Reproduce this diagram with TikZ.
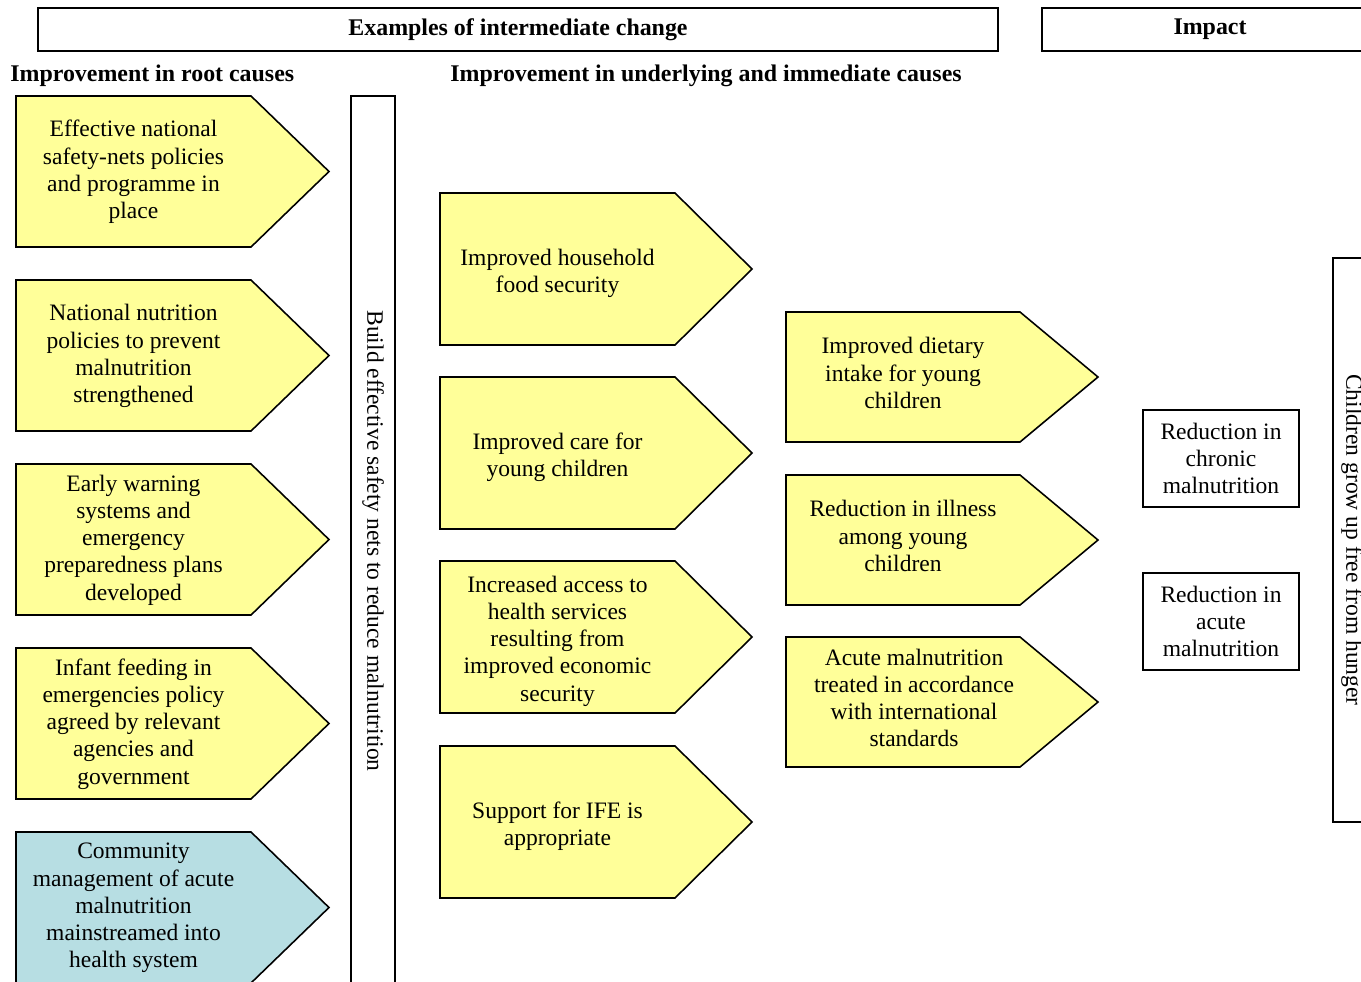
\documentclass[tikz,border=0pt]{standalone}
\usepackage{fontspec}
\setmainfont{Liberation Serif}
\usetikzlibrary{positioning}
\definecolor{chevyellow}{RGB}{255,255,153}
\definecolor{chevblue}{RGB}{183,222,227}

\begin{document}
\begin{tikzpicture}[
    x=0.02cm, y=-0.02cm,
    chev/.style={draw, line width=0.9pt, line join=miter},
    frame/.style={draw, line width=0.9pt},
    txt/.style={align=center, inner sep=0pt,
                font=\fontsize{13.4}{15.5}\selectfont},
    hdr/.style={font=\fontsize{13.6}{15.5}\selectfont\bfseries}
  ]
  \useasboundingbox (0,0) rectangle (1361,981);
  \clip (0,0) rectangle (1361,981);

  % Top headers
  \node[frame, hdr, minimum width=19.2cm, minimum height=0.86cm] (examples)
    at (518,29.5) {Examples of intermediate change};
  \node[frame, hdr, minimum width=6.72cm, minimum height=0.86cm] (impact)
    at (1210,29.5) {Impact};
  \node[hdr, anchor=west, inner sep=0pt] (roothdr) at (10,76) {Improvement in root causes};
  \node[hdr, anchor=west, inner sep=0pt] (underhdr) at (450,76)
    {Improvement in underlying and immediate causes};

  % Root causes
  \foreach \n/\y/\c/\t in {
      r1/96/chevyellow/{Effective national\\safety-nets policies\\and programme in\\place},
      r2/280/chevyellow/{National nutrition\\policies to prevent\\malnutrition\\strengthened},
      r3/464/chevyellow/{Early warning\\systems and\\emergency\\preparedness plans\\developed},
      r4/648/chevyellow/{Infant feeding in\\emergencies policy\\agreed by relevant\\agencies and\\government},
      r5/832/chevblue/{Community\\management of acute\\malnutrition\\mainstreamed into\\health system}} {
    \draw[chev, fill=\c] (16,\y) -- ++(235,0) -- ++(78,75.5) -- ++(-78,75.5)
      -- ++(-235,0) -- cycle;
    \node[txt] (\n) at (133.5,\y+76) {\t};
  }

  % Build safety nets bar
  \draw[frame] (351,96) rectangle (395,1000);
  \node[txt, rotate=-90] (nets) at (373,541)
    {Build effective safety nets to reduce malnutrition};

  % Underlying causes
  \foreach \n/\y/\t in {
      u1/193/{Improved household\\food security},
      u2/377/{Improved care for\\young children},
      u3/561/{Increased access to\\health services\\resulting from\\improved economic\\security},
      u4/746/{Support for IFE is\\appropriate}} {
    \draw[chev, fill=chevyellow] (440,\y) -- ++(235,0) -- ++(77,76) -- ++(-77,76)
      -- ++(-235,0) -- cycle;
    \node[txt] (\n) at (557.5,\y+80) {\t};
  }

  % Immediate causes
  \foreach \n/\y/\x/\t in {
      i1/312/903/{Improved dietary\\intake for young\\children},
      i2/475/903/{Reduction in illness\\among young\\children},
      i3/637/914/{Acute malnutrition\\treated in accordance\\with international\\standards}} {
    \draw[chev, fill=chevyellow] (786,\y) -- ++(234,0) -- ++(78,65) -- ++(-78,65)
      -- ++(-234,0) -- cycle;
    \node[txt] (\n) at (\x,\y+61) {\t};
  }

  % Outcomes
  \node[frame, txt, minimum width=3.12cm, minimum height=1.94cm] (chronic)
    at (1221,458.5) {Reduction in\\chronic\\malnutrition};
  \node[frame, txt, minimum width=3.12cm, minimum height=1.94cm] (acute)
    at (1221,621.5) {Reduction in\\acute\\malnutrition};

  % Impact bar
  \draw[frame] (1333,258) rectangle (1400,822);
  \node[txt, rotate=-90] (hunger) at (1352,540) {Children grow up free from hunger};
\end{tikzpicture}
\end{document}
